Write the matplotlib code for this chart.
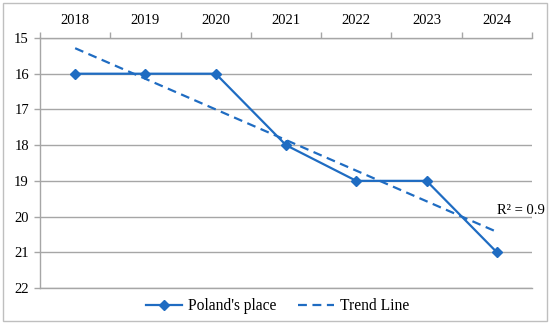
import matplotlib.pyplot as plt
import numpy as np
from matplotlib.patches import Rectangle

# data
years = ['2018', '2019', '2020', '2021', '2022', '2023', '2024']
place = [16, 16, 16, 18, 19, 19, 21]
r2_label = 'R² = 0.9'

blue = '#1f6cc2'
grid_c = '#a6a6a6'

plt.rcParams['font.family'] = ['Liberation Serif', 'DejaVu Serif']
plt.rcParams['font.size'] = 11

fig = plt.figure(figsize=(5.5, 3.24), dpi=100)
ax = fig.add_axes([40/550, 1-288/324, 492/550, 250/324])

x = np.arange(len(years))
# linear trend line (least squares)
k, b = np.polyfit(x, place, 1)
trend = k*x + b

ax.plot(x, place, color=blue, lw=1.6, marker='D', ms=5, label="Poland's place", zorder=3)
ax.plot(x, trend, color=blue, lw=1.6, ls=(0, (4, 2.5)), label='Trend Line', zorder=3)
ax.text(6, 19.84, r2_label, ha='left', va='center', fontsize=10.5)

ax.set_xlim(-0.5, len(years)-0.5)
ax.set_ylim(22, 15)
ax.set_yticks(range(15, 23))
ax.set_xticks(x)
ax.set_xticklabels(years)
ax.xaxis.tick_top()
ax.xaxis.set_minor_locator(plt.FixedLocator(np.arange(-0.5, len(years), 1)))
ax.tick_params(axis='x', which='major', length=0, pad=8, labelsize=10.5)
ax.tick_params(axis='x', which='minor', length=4, color=grid_c, width=1)
ax.tick_params(axis='y', length=4, color=grid_c, width=1, labelsize=10.5, pad=4)
ax.yaxis.grid(True, color=grid_c, lw=1)
ax.set_axisbelow(True)
ax.spines['right'].set_visible(False)
for s in ['left', 'top', 'bottom']:
    ax.spines[s].set_color(grid_c)
    ax.spines[s].set_linewidth(1)

fig.legend(loc='center', bbox_to_anchor=(0.505, 1-306/324), ncol=2, frameon=False,
           fontsize=11.2, handlelength=2.3, columnspacing=1.4, handletextpad=0.4)

fig.add_artist(Rectangle((3/550, 3/324), 544/550, 318/324, transform=fig.transFigure,
                         fill=False, edgecolor='#bfbfbf', lw=1))

fig.savefig('out.png', dpi=100)
